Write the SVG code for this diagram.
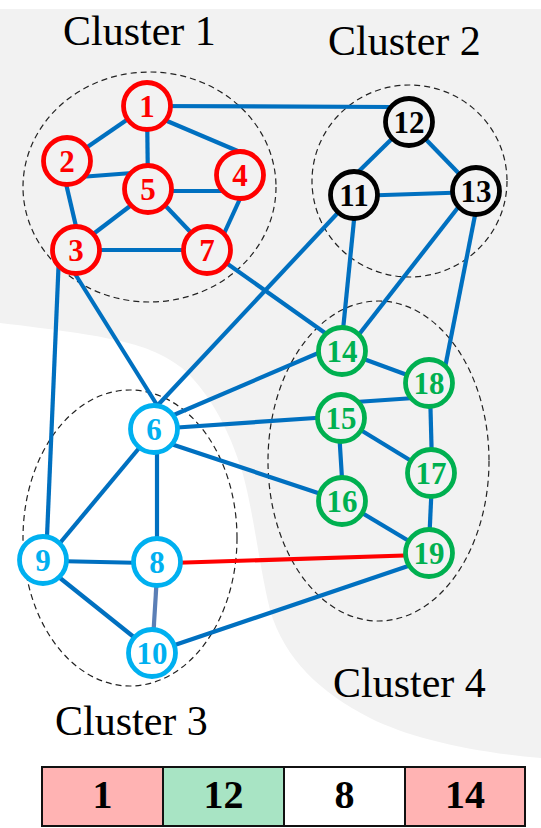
<svg xmlns="http://www.w3.org/2000/svg" width="541" height="828" viewBox="0 0 541 828">
<style>
.bg{fill:#f2f2f2;stroke:none}
.cl{fill:none;stroke:#222;stroke-width:1.2;stroke-dasharray:6,4}
.e{stroke:#0070c0;stroke-width:4.2;stroke-linecap:butt;fill:none}
.red{stroke:#ff0000}
.gb{stroke:#5b7fb6}
.n circle{stroke-width:4.8}
.n text{font-family:"Liberation Serif","Times New Roman",serif;font-weight:bold;font-size:31px;text-anchor:middle}
.c1 circle{stroke:#ff0000;fill:#f2f2f2}.c1 text{fill:#ff0000}
.c2 circle{stroke:#000;fill:#f2f2f2}.c2 text{fill:#000}
.c3 circle{stroke:#00b0f0;fill:#fff}.c3 text{fill:#00b0f0}
.c4 circle{stroke:#00b050;fill:#f2f2f2}.c4 text{fill:#00b050}
.lbl{font-family:"Liberation Serif","Times New Roman",serif;font-size:42px;fill:#000}
.bar rect{stroke:#111;stroke-width:2}
.bar text{font-family:"Liberation Serif","Times New Roman",serif;font-weight:bold;font-size:40px;text-anchor:middle;fill:#000}
</style>
<rect width="541" height="828" fill="#fff"/>
<path class="bg" d="M0,9 H541 V758 C470,752 410,738 370,718 C320,692 285,660 270,610 C258,560 252,500 240,465 C227,425 207,390 182,368 C150,343 110,336 0,323 Z"/>
<g id="clusters">
<ellipse class="cl" cx="149.5" cy="187" rx="126.5" ry="115"/>
<ellipse class="cl" cx="409.5" cy="181" rx="97.5" ry="96"/>
<ellipse class="cl" cx="130" cy="538" rx="107" ry="148"/>
<ellipse class="cl" cx="378.5" cy="461" rx="110.5" ry="160"/>
</g>
<g id="connectors">
<line class="e" x1="147" y1="106" x2="392" y2="107"/>
<line class="e" x1="147" y1="106" x2="67" y2="161"/>
<line class="e" x1="147" y1="106" x2="148" y2="189"/>
<line class="e" x1="160" y1="118" x2="240" y2="152"/>
<line class="e" x1="80" y1="177" x2="132" y2="173"/>
<line class="e" x1="64" y1="175" x2="78" y2="235"/>
<line class="e" x1="160" y1="191" x2="230" y2="191"/>
<line class="e" x1="138" y1="200" x2="88" y2="238"/>
<line class="e" x1="160" y1="200" x2="198" y2="240"/>
<line class="e" x1="244" y1="190" x2="222" y2="238"/>
<line class="e" x1="76" y1="250" x2="207" y2="250"/>
<line class="e" x1="59" y1="255" x2="46" y2="560"/>
<line class="e" x1="72" y1="269" x2="157" y2="405"/>
<line class="e" x1="215" y1="255" x2="335" y2="340"/>
<line class="e" x1="409" y1="122" x2="354" y2="176"/>
<line class="e" x1="409" y1="122" x2="470" y2="185"/>
<line class="e" x1="354" y1="196" x2="476" y2="192"/>
<line class="e" x1="348" y1="202" x2="157" y2="406"/>
<line class="e" x1="355" y1="210" x2="342" y2="340"/>
<line class="e" x1="467" y1="196" x2="350" y2="346"/>
<line class="e" x1="478" y1="200" x2="443" y2="378"/>
<line class="e" x1="342" y1="351" x2="429" y2="383"/>
<line class="e" x1="341" y1="403" x2="429" y2="397"/>
<line class="e" x1="341" y1="418" x2="431" y2="473"/>
<line class="e" x1="339" y1="430" x2="343" y2="495"/>
<line class="e" x1="430" y1="390" x2="432" y2="465"/>
<line class="e" x1="432" y1="480" x2="429" y2="545"/>
<line class="e" x1="342" y1="501" x2="429" y2="553"/>
<line class="e" x1="162" y1="420" x2="330" y2="348"/>
<line class="e" x1="170" y1="428" x2="330" y2="417"/>
<line class="e" x1="162" y1="441" x2="330" y2="497"/>
<line class="e red" x1="170" y1="563" x2="420" y2="555"/>
<line class="e" x1="160" y1="650" x2="420" y2="562"/>
<line class="e" x1="150" y1="435" x2="50" y2="555"/>
<line class="e" x1="157" y1="440" x2="157" y2="550"/>
<line class="e" x1="55" y1="561" x2="145" y2="563"/>
<line class="e" x1="50" y1="570" x2="140" y2="642"/>
<line class="e gb" x1="157" y1="575" x2="153" y2="640"/>
</g>
<g id="n1" class="n c1"><circle cx="147" cy="106" r="23.5"/><text x="147" y="116.5">1</text></g>
<g id="n2" class="n c1"><circle cx="67" cy="161" r="23.5"/><text x="67" y="171.5">2</text></g>
<g id="n3" class="n c1"><circle cx="76" cy="250" r="23.5"/><text x="76" y="260.5">3</text></g>
<g id="n4" class="n c1"><circle cx="240" cy="175" r="23.5"/><text x="240" y="185.5">4</text></g>
<g id="n5" class="n c1"><circle cx="148" cy="189" r="23.5"/><text x="148" y="199.5">5</text></g>
<g id="n7" class="n c1"><circle cx="207" cy="250" r="23.5"/><text x="207" y="260.5">7</text></g>
<g id="n11" class="n c2"><circle cx="354" cy="195" r="23.5"/><text x="354" y="205.5">11</text></g>
<g id="n12" class="n c2"><circle cx="409" cy="122" r="23.5"/><text x="409" y="132.5">12</text></g>
<g id="n13" class="n c2"><circle cx="476" cy="191" r="23.5"/><text x="476" y="201.5">13</text></g>
<g id="n6" class="n c3"><circle cx="154" cy="429" r="23.5"/><text x="154" y="439.5">6</text></g>
<g id="n8" class="n c3"><circle cx="157" cy="562" r="23.5"/><text x="157" y="572.5">8</text></g>
<g id="n9" class="n c3"><circle cx="43" cy="560" r="23.5"/><text x="43" y="570.5">9</text></g>
<g id="n10" class="n c3"><circle cx="152" cy="653" r="23.5"/><text x="152" y="663.5">10</text></g>
<g id="n14" class="n c4"><circle cx="342" cy="351" r="23.5"/><text x="342" y="361.5">14</text></g>
<g id="n15" class="n c4"><circle cx="341" cy="418" r="23.5"/><text x="341" y="428.5">15</text></g>
<g id="n16" class="n c4"><circle cx="342" cy="501" r="23.5"/><text x="342" y="511.5">16</text></g>
<g id="n17" class="n c4"><circle cx="431" cy="473" r="23.5"/><text x="431" y="483.5">17</text></g>
<g id="n18" class="n c4"><circle cx="429" cy="383" r="23.5"/><text x="429" y="393.5">18</text></g>
<g id="n19" class="n c4"><circle cx="429" cy="553" r="23.5"/><text x="429" y="563.5">19</text></g>
<g id="labels">
<text class="lbl" x="63" y="45">Cluster 1</text>
<text class="lbl" x="328" y="55">Cluster 2</text>
<text class="lbl" x="55" y="735">Cluster 3</text>
<text class="lbl" x="333" y="697">Cluster 4</text>
</g>
<g id="bar" class="bar">
<rect x="42" y="767" width="121" height="59" fill="#ffb3b3"/>
<rect x="163" y="767" width="121" height="59" fill="#a8e4c4"/>
<rect x="284" y="767" width="121" height="59" fill="#ffffff"/>
<rect x="405" y="767" width="120" height="59" fill="#ffb3b3"/>
<text x="102.5" y="808">1</text>
<text x="223.5" y="808">12</text>
<text x="344.5" y="808">8</text>
<text x="465" y="808">14</text>
</g>
</svg>
